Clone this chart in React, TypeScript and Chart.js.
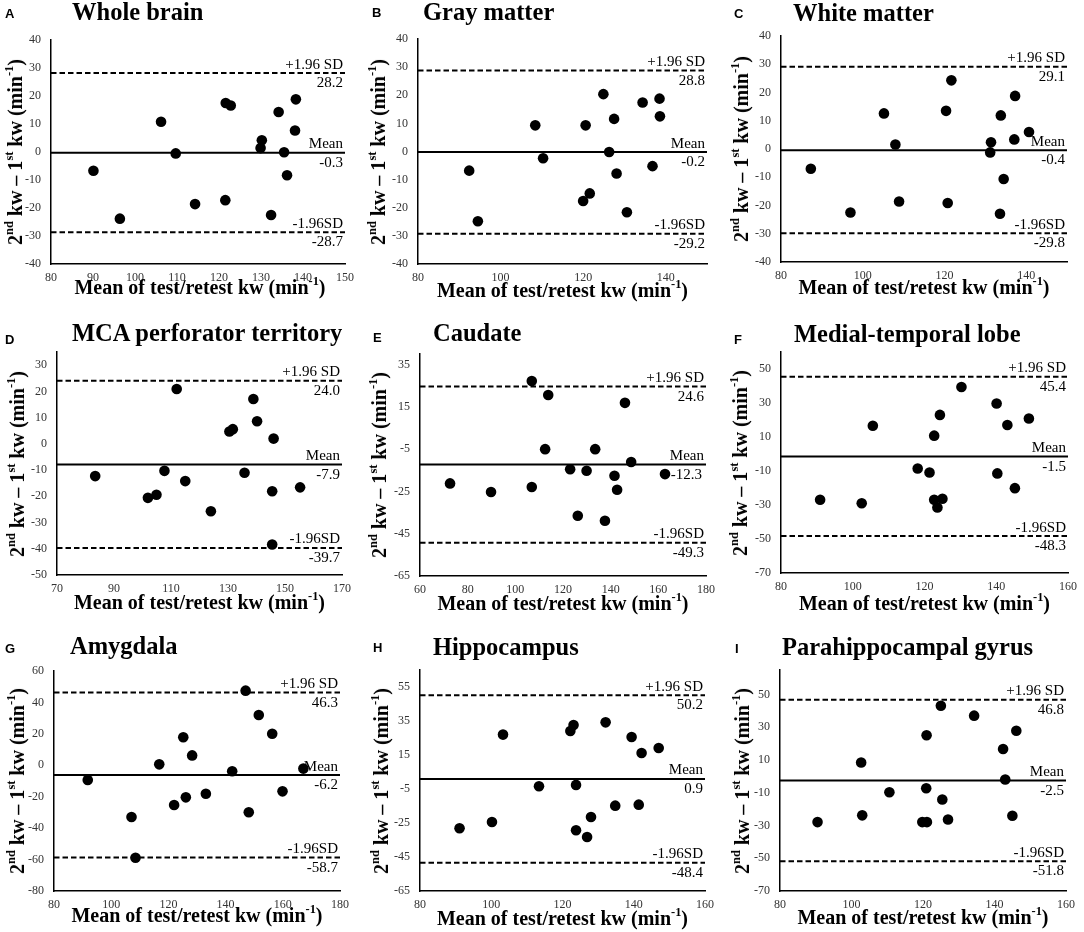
import React, { useEffect, useRef } from "react";
import { Chart, registerables } from "chart.js";

Chart.register(...registerables);

// ---------------- DATA ----------------
const panelLetters = ["A", "B", "C", "D", "E", "F", "G", "H", "I"];
const panelTitles = [
  "Whole brain",
  "Gray matter",
  "White matter",
  "MCA perforator territory",
  "Caudate",
  "Medial-temporal lobe",
  "Amygdala",
  "Hippocampus",
  "Parahippocampal gyrus",
];

// x = mean of test/retest kw, y = 2nd kw - 1st kw
const wholeBrainMean = [90.1, 96.4, 106.2, 109.7, 114.3, 121.6, 122.8, 121.5, 129.9, 130.2, 132.4, 134.2, 135.5, 136.2, 138.1, 138.3];
const wholeBrainDiff = [-6.7, -23.8, 10.8, -0.5, -18.6, 17.5, 16.6, -17.2, 1.4, 4.2, -22.5, 14.3, -0.1, -8.3, 7.7, 18.8];

const grayMatterMean = [92.4, 94.5, 108.4, 110.3, 120.6, 120.0, 121.6, 124.9, 126.3, 127.5, 128.1, 130.6, 134.4, 136.8, 138.5, 138.6];
const grayMatterDiff = [-6.8, -24.8, 9.3, -2.4, 9.3, -17.6, -14.9, 20.4, -0.2, 11.6, -7.8, -21.6, 17.4, -5.2, 18.8, 12.5];

const whiteMatterMean = [87.3, 97.0, 105.2, 108.0, 108.9, 120.4, 121.7, 120.8, 131.4, 131.2, 133.6, 133.8, 134.5, 137.1, 137.3, 140.7];
const whiteMatterDiff = [-7.0, -22.5, 12.6, 1.6, -18.6, 13.5, 24.3, -19.1, 2.4, -1.2, -22.9, 11.9, -10.6, 3.4, 18.8, 6.0];

const mcaMean = [83.4, 101.9, 104.9, 107.7, 112.0, 115.0, 124.0, 130.5, 131.7, 135.8, 138.9, 140.2, 146.0, 145.5, 145.5, 155.3];
const mcaDiff = [-12.3, -20.6, -19.4, -10.3, 20.9, -14.2, -25.7, 4.7, 5.6, -11.0, 17.1, 8.6, 2.0, -18.1, -38.4, -16.6];

const caudateMean = [72.6, 89.8, 106.9, 106.9, 113.8, 112.5, 123.0, 126.2, 129.9, 133.5, 137.6, 141.6, 142.7, 146.0, 148.6, 162.8];
const caudateDiff = [-21.2, -25.3, 27.2, -22.9, 20.6, -5.0, -14.5, -36.5, -15.2, -5.0, -38.9, -17.6, -24.2, 16.9, -11.1, -16.8];

const medialTemporalMean = [90.9, 102.5, 105.6, 118.1, 121.4, 122.7, 122.7, 123.6, 124.3, 125.0, 130.3, 140.1, 140.3, 143.1, 145.2, 149.1];
const medialTemporalDiff = [-26.9, -29.0, 16.6, -8.5, -10.9, 10.8, -26.9, -31.4, 23.0, -26.3, 39.4, 29.7, -11.4, 17.1, -20.1, 20.9];

const amygdalaMean = [91.8, 107.1, 108.5, 116.8, 122.0, 125.2, 126.1, 128.3, 133.1, 142.3, 147.0, 148.1, 151.6, 156.3, 159.9, 167.2];
const amygdalaDiff = [-9.3, -32.9, -58.8, 0.6, -25.3, 17.8, -20.4, 6.3, -18.1, -3.8, 47.5, -29.9, 32.0, 20.1, -16.6, -2.1];

const hippocampusMean = [91.1, 100.2, 103.3, 113.4, 122.2, 123.1, 123.8, 123.8, 126.9, 128.0, 132.1, 134.8, 139.4, 141.4, 142.2, 147.0];
const hippocampusDiff = [-28.1, -24.4, 27.0, -3.4, 29.1, 32.6, -2.6, -29.3, -33.2, -21.5, 34.2, -14.8, 25.6, -14.2, 16.2, 19.1];

const parahippocampalMean = [90.5, 102.7, 103.0, 110.6, 119.8, 121.1, 121.0, 120.9, 125.0, 125.4, 127.0, 134.3, 142.4, 143.0, 145.0, 146.1];
const parahippocampalDiff = [-27.9, 8.5, -23.8, -9.7, -27.9, -27.9, 25.1, -7.2, 43.2, -14.1, -26.3, 37.1, 16.7, -1.9, -24.0, 27.9];

const seriesMean = [wholeBrainMean, grayMatterMean, whiteMatterMean, mcaMean, caudateMean, medialTemporalMean, amygdalaMean, hippocampusMean, parahippocampalMean];
const seriesDiff = [wholeBrainDiff, grayMatterDiff, whiteMatterDiff, mcaDiff, caudateDiff, medialTemporalDiff, amygdalaDiff, hippocampusDiff, parahippocampalDiff];

const meanDiff = [-0.3, -0.2, -0.4, -7.9, -12.3, -1.5, -6.2, 0.9, -2.5];
const upperLimit = [28.2, 28.8, 29.1, 24.0, 24.6, 45.4, 46.3, 50.2, 46.8];
const lowerLimit = [-28.7, -29.2, -29.8, -39.7, -49.3, -48.3, -58.7, -48.4, -51.8];

const xMin = [80, 80, 80, 70, 60, 80, 80, 80, 80];
const xMax = [150, 150, 150, 170, 180, 160, 180, 160, 160];
const yMin = [-40, -40, -40, -50, -65, -70, -80, -65, -70];
const yMax = [40, 40, 40, 35, 40, 60, 60, 65, 65];

const xTickLabels = [
  [80, 90, 100, 110, 120, 130, 140, 150],
  [80, 100, 120, 140],
  [80, 100, 120, 140],
  [70, 90, 110, 130, 150, 170],
  [60, 80, 100, 120, 140, 160, 180],
  [80, 100, 120, 140, 160],
  [80, 100, 120, 140, 160, 180],
  [80, 100, 120, 140, 160],
  [80, 100, 120, 140, 160],
];
const yTickLabels = [
  [-40, -30, -20, -10, 0, 10, 20, 30, 40],
  [-40, -30, -20, -10, 0, 10, 20, 30, 40],
  [-40, -30, -20, -10, 0, 10, 20, 30, 40],
  [-50, -40, -30, -20, -10, 0, 10, 20, 30],
  [-65, -45, -25, -5, 15, 35],
  [-70, -50, -30, -10, 10, 30, 50],
  [-80, -60, -40, -20, 0, 20, 40, 60],
  [-65, -45, -25, -5, 15, 35, 55],
  [-70, -50, -30, -10, 10, 30, 50],
];

const upperLabel = "+1.96 SD";
const meanLabel = "Mean";
const lowerLabel = "-1.96SD";

// ---------------- LAYOUT ----------------
const SERIF = '"Liberation Serif", "Times New Roman", serif';
const SANS = '"Liberation Sans", Arial, sans-serif';

type Geom = {
  x: number; y: number; w: number; h: number;
  L: number; R: number; T: number; B: number;
  letterX: number; letterY: number;
  titleX: number; titleY: number;
  yTitleX: number; xTitleY: number;
  meanValDx?: number;
};

const GEOM: Geom[] = [
  { x: 0, y: 0, w: 361, h: 310, L: 51, R: 349, T: 40, B: 264, letterX: 5, letterY: 13, titleX: 72, titleY: 12, yTitleX: 15, xTitleY: 287 },
  { x: 361, y: 0, w: 361, h: 310, L: 57, R: 346, T: 39, B: 264, letterX: 11, letterY: 12.5, titleX: 62, titleY: 12.5, yTitleX: 17, xTitleY: 290 },
  { x: 722, y: 0, w: 362, h: 310, L: 59, R: 345, T: 36, B: 262, letterX: 12, letterY: 13, titleX: 71, titleY: 13, yTitleX: 19, xTitleY: 287 },
  { x: 0, y: 310, w: 361, h: 310, L: 57, R: 342, T: 42, B: 265, letterX: 5, letterY: 29, titleX: 72, titleY: 23.5, yTitleX: 17, xTitleY: 292 },
  { x: 361, y: 310, w: 361, h: 310, L: 59, R: 345, T: 44, B: 266, letterX: 12, letterY: 27.5, titleX: 72, titleY: 23, yTitleX: 18, xTitleY: 293, meanValDx: -2 },
  { x: 722, y: 310, w: 362, h: 310, L: 59, R: 346, T: 42, B: 263, letterX: 12, letterY: 29, titleX: 72, titleY: 24, yTitleX: 18, xTitleY: 293 },
  { x: 0, y: 620, w: 361, h: 312, L: 54, R: 340, T: 51, B: 271, letterX: 5, letterY: 28.5, titleX: 70, titleY: 26, yTitleX: 17, xTitleY: 295 },
  { x: 361, y: 620, w: 361, h: 312, L: 59, R: 344, T: 50, B: 271, letterX: 12, letterY: 27.5, titleX: 72, titleY: 27.5, yTitleX: 20, xTitleY: 298 },
  { x: 722, y: 620, w: 362, h: 312, L: 58, R: 344, T: 50, B: 271, letterX: 13, letterY: 28, titleX: 60, titleY: 27, yTitleX: 20, xTitleY: 297 },
];

const supStyle: React.CSSProperties = {
  fontSize: "0.62em",
  verticalAlign: "baseline",
  position: "relative",
  top: "-0.7em",
};

function Panel({ idx }: { idx: number }) {
  const ref = useRef<HTMLCanvasElement>(null);
  const g = GEOM[idx];

  useEffect(() => {
    const canvas = ref.current;
    if (!canvas) return;
    const xs = seriesMean[idx];
    const ys = seriesDiff[idx];
    const points = xs.map((x, i) => ({ x, y: ys[i] }));
    const lo = xMin[idx];
    const hi = xMax[idx];
    const tickFont = { family: SERIF, size: 12 };

    const annotations = {
      id: "blandAltmanLabels",
      afterDatasetsDraw(chart: any) {
        const ctx = chart.ctx;
        const yS = chart.scales.y;
        const right = chart.chartArea.right - 2;
        ctx.save();
        ctx.font = `15px ${SERIF}`;
        ctx.fillStyle = "#000";
        ctx.textAlign = "right";
        ctx.textBaseline = "alphabetic";
        const items: [string, number, number][] = [
          [upperLabel, upperLimit[idx], 0],
          [meanLabel, meanDiff[idx], g.meanValDx || 0],
          [lowerLabel, lowerLimit[idx], 0],
        ];
        for (const [label, v, dx] of items) {
          const py = yS.getPixelForValue(v);
          ctx.fillText(label, right, py - 4.5);
          ctx.fillText(v.toFixed(1), right + dx, py + 14);
        }
        ctx.restore();
      },
    };

    const lineDs = (v: number, dash: number[]) => ({
      type: "line" as const,
      data: [
        { x: lo, y: v },
        { x: hi, y: v },
      ],
      borderColor: "#000",
      borderWidth: 2,
      borderDash: dash,
      pointRadius: 0,
      fill: false,
      tension: 0,
    });

    const chart = new Chart(canvas, {
      type: "scatter",
      data: {
        datasets: [
          {
            type: "scatter",
            data: points,
            pointRadius: 5.3,
            pointHoverRadius: 5.3,
            backgroundColor: "#000",
            borderColor: "#000",
            borderWidth: 0,
          } as any,
          lineDs(meanDiff[idx], []),
          lineDs(upperLimit[idx], [5.5, 3]),
          lineDs(lowerLimit[idx], [5.5, 3]),
        ],
      },
      options: {
        animation: false,
        responsive: false,
        events: [],
        layout: { padding: { top: g.T, right: g.w - g.R, left: 0, bottom: 0 } },
        plugins: {
          legend: { display: false },
          tooltip: { enabled: false },
          title: { display: false },
        },
        scales: {
          x: {
            type: "linear",
            min: lo,
            max: hi,
            afterBuildTicks: (axis: any) => {
              axis.ticks = xTickLabels[idx].map((v) => ({ value: v }));
            },
            afterFit: (s: any) => {
              s.height = g.h - g.B;
            },
            grid: { display: false, drawTicks: false },
            border: { display: true, color: "#000", width: 1.5 },
            ticks: { font: tickFont, color: "#333", padding: 7, autoSkip: false, maxRotation: 0 },
          },
          y: {
            type: "linear",
            min: yMin[idx],
            max: yMax[idx],
            afterBuildTicks: (axis: any) => {
              axis.ticks = yTickLabels[idx].map((v) => ({ value: v }));
            },
            afterFit: (s: any) => {
              s.width = g.L;
            },
            grid: { display: false, drawTicks: false },
            border: { display: true, color: "#000", width: 1.5 },
            ticks: { font: tickFont, color: "#333", padding: 10, autoSkip: false },
          },
        },
      } as any,
      plugins: [annotations as any],
    });
    return () => chart.destroy();
  }, [idx]);

  const plotCx = (g.L + g.R) / 2;
  const plotCy = (g.T + g.B) / 2;

  return (
    <div style={{ position: "absolute", left: g.x, top: g.y, width: g.w, height: g.h }}>
      <canvas
        ref={ref}
        width={g.w}
        height={g.h}
        style={{ position: "absolute", left: 0, top: 0, width: g.w, height: g.h }}
      />
      <div
        style={{
          position: "absolute",
          left: g.letterX,
          top: g.letterY - 0.49 * 13,
          fontFamily: SANS,
          fontWeight: "bold",
          fontSize: 13,
          lineHeight: 1,
          whiteSpace: "nowrap",
        }}
      >
        {panelLetters[idx]}
      </div>
      <div
        style={{
          position: "absolute",
          left: g.titleX,
          top: g.titleY - 0.5 * 24.5,
          fontFamily: SERIF,
          fontWeight: "bold",
          fontSize: 24.5,
          lineHeight: 1,
          whiteSpace: "nowrap",
        }}
      >
        {panelTitles[idx]}
      </div>
      <div
        style={{
          position: "absolute",
          left: g.yTitleX,
          top: plotCy,
          transform: "translate(-50%, -50%) rotate(-90deg)",
          fontFamily: SERIF,
          fontWeight: "bold",
          fontSize: 20,
          lineHeight: 1,
          whiteSpace: "nowrap",
        }}
      >
        2<sup style={supStyle}>nd</sup> kw – 1<sup style={supStyle}>st</sup> kw (min
        <sup style={supStyle}>-1</sup>)
      </div>
      <div
        style={{
          position: "absolute",
          left: plotCx,
          top: g.xTitleY - 10,
          transform: "translateX(-50%)",
          fontFamily: SERIF,
          fontWeight: "bold",
          fontSize: 20,
          lineHeight: 1,
          whiteSpace: "nowrap",
        }}
      >
        Mean of test/retest kw (min<sup style={supStyle}>-1</sup>)
      </div>
    </div>
  );
}

export default function App() {
  return (
    <div
      style={{
        position: "absolute",
        left: 0,
        top: 0,
        width: 1084,
        height: 932,
        background: "#fff",
        overflow: "hidden",
        color: "#000",
      }}
    >
      {panelTitles.map((_, i) => (
        <Panel key={i} idx={i} />
      ))}
    </div>
  );
}
